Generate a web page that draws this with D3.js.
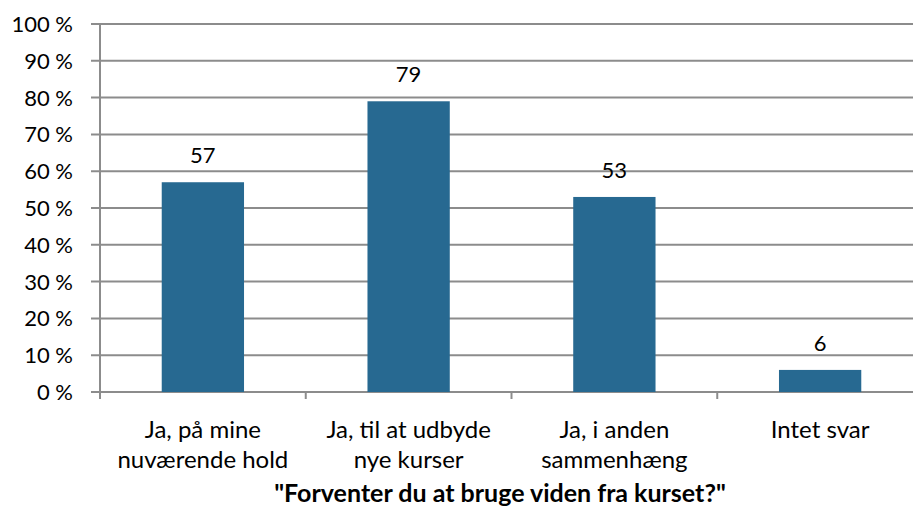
<!DOCTYPE html>
<html>
<head>
<meta charset="utf-8">
<script src="https://cdn.jsdelivr.net/npm/d3@7"></script>
<style>
  body { margin: 0; background: #fff; }
  svg { display: block; }
</style>
</head>
<body>
<div id="chart"></div>
<script>
const categories = [
    ["Ja, på mine", "nuværende hold"],
    ["Ja, til at udbyde", "nye kurser"],
    ["Ja, i anden", "sammenhæng"],
    ["Intet svar"]
];
const values = [57, 79, 53, 6];
const yTicks = [0, 10, 20, 30, 40, 50, 60, 70, 80, 90, 100];
const axisTitle = "\"Forventer du at bruge viden fra kurset?\"";

const width = 913;
const height = 510;
const margin = { top: 24, right: -10, bottom: 118, left: 100 };
const innerWidth = width - margin.left - margin.right;
const innerHeight = height - margin.top - margin.bottom;
const barColor = "#276991";
const gridColor = "#8c8c8c";
const font = "Lato, 'Open Sans', sans-serif";

const svg = d3.select("#chart")
              .append("svg")
              .attr("width", width)
              .attr("height", height);

const inner = svg.append("g")
                 .attr("transform", `translate(${margin.left}, ${margin.top})`);

const keys = categories.map((d, i) => i);

const xScale = d3.scaleBand()
                 .domain(keys)
                 .range([0, innerWidth]);

const xBars = d3.scaleBand()
                .domain(keys)
                .range([0, innerWidth])
                .paddingInner(0.6)
                .paddingOuter(0.3);

const yScale = d3.scaleLinear()
                 .domain([0, 100])
                 .range([innerHeight, 0]);

// gridlines + y ticks
inner.selectAll("line.grid")
     .data(yTicks)
     .join("line")
     .attr("class", "grid")
     .attr("x1", -9)
     .attr("x2", innerWidth)
     .attr("y1", d => yScale(d))
     .attr("y2", d => yScale(d))
     .attr("stroke", gridColor)
     .attr("stroke-width", 2);

inner.selectAll("text.ytick")
     .data(yTicks)
     .join("text")
     .attr("class", "ytick")
     .attr("x", -27)
     .attr("y", d => yScale(d))
     .attr("dy", "0.36em")
     .attr("text-anchor", "end")
     .style("font-family", font)
     .style("font-size", "22px")
     .attr("fill", "#000")
     .text(d => `${d} %`);

// y axis line
inner.append("line")
     .attr("x1", 0).attr("x2", 0)
     .attr("y1", 0).attr("y2", innerHeight + 7)
     .attr("stroke", gridColor)
     .attr("stroke-width", 2);

// category ticks below axis
inner.selectAll("line.xtick")
     .data(keys.slice(1).concat([keys.length]))
     .join("line")
     .attr("class", "xtick")
     .attr("x1", d => d < keys.length ? xScale(d) : innerWidth)
     .attr("x2", d => d < keys.length ? xScale(d) : innerWidth)
     .attr("y1", innerHeight)
     .attr("y2", innerHeight + 7)
     .attr("stroke", gridColor)
     .attr("stroke-width", 2);

// bars
inner.selectAll("rect.bar")
     .data(values)
     .join("rect")
     .attr("class", "bar")
     .attr("x", (d, i) => xBars(i))
     .attr("y", d => yScale(d))
     .attr("width", xBars.bandwidth())
     .attr("height", d => innerHeight - yScale(d))
     .attr("fill", barColor);

// value labels
inner.selectAll("text.value")
     .data(values)
     .join("text")
     .attr("class", "value")
     .attr("x", (d, i) => xScale(i) + xScale.bandwidth() / 2)
     .attr("y", d => yScale(d) - 19)
     .attr("text-anchor", "middle")
     .style("font-family", font)
     .style("font-size", "22px")
     .attr("fill", "#000")
     .text(d => d);

// category labels
const catLabels = inner.selectAll("text.cat")
                       .data(categories)
                       .join("text")
                       .attr("class", "cat")
                       .attr("text-anchor", "middle")
                       .style("font-family", font)
                       .style("font-size", "24px")
                       .attr("fill", "#000");

catLabels.selectAll("tspan")
         .data((d, i) => d.map(line => ({ line, i })))
         .join("tspan")
         .attr("x", d => xScale(d.i) + xScale.bandwidth() / 2)
         .attr("y", (d, j) => innerHeight + 46 + j * 30)
         .text(d => d.line);

// axis title
svg.append("text")
   .attr("x", 500)
   .attr("y", 502)
   .attr("text-anchor", "middle")
   .style("font-family", font)
   .style("font-size", "25px")
   .style("font-weight", "bold")
   .attr("fill", "#000")
   .text(axisTitle);
</script>
</body>
</html>
